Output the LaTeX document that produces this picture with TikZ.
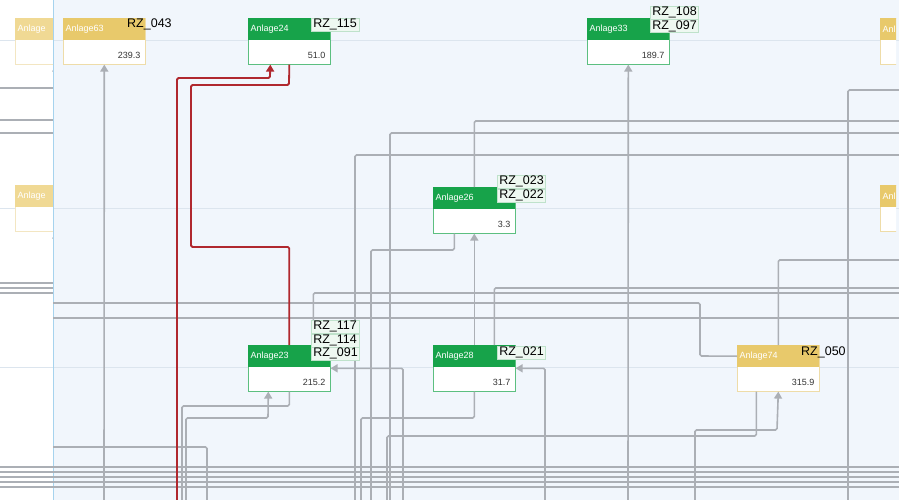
\documentclass[tikz,border=0pt]{standalone}
\usepackage{fontspec}
\setmainfont{Liberation Sans}
\usetikzlibrary{arrows.meta,positioning,calc}
\definecolor{Bg}{HTML}{F1F6FC}
\definecolor{Pane}{HTML}{FFFFFF}
\definecolor{Split}{HTML}{A6D3EE}
\definecolor{RowLine}{HTML}{DCE5EE}
\definecolor{Wire}{HTML}{ABAFB5}
\definecolor{Hot}{HTML}{B0282E}
\definecolor{Gn}{HTML}{17A34A}
\definecolor{GnRule}{HTML}{5CBF80}
\definecolor{Yw}{HTML}{E8C96B}
\definecolor{YwRule}{HTML}{EEDCA8}
\definecolor{YwPale}{HTML}{F0D994}
\definecolor{YwPaleRule}{HTML}{F3E6C2}
\definecolor{TagFill}{HTML}{EEF8F1}
\definecolor{TagRule}{HTML}{BFE2CB}
\definecolor{Ink}{HTML}{333333}
\tikzset{>={Triangle[width=8pt,length=7pt]},
 every node/.style={font=\fontsize{9}{10}\selectfont,inner sep=0pt},
 wire/.style={draw=Wire,line width=1.6pt,rounded corners=1.5pt},
 hot/.style={draw=Hot,line width=1.8pt,rounded corners=1.5pt},
 box/.style={draw=#1,fill=white,line width=.6pt,minimum width=82pt,minimum height=46pt},
 head/.style={fill=#1,minimum width=82pt,minimum height=22pt,text=white,align=left,text width=77pt},
 val/.style={text=Ink},
 tag/.style={draw=TagRule,fill=TagFill,line width=.5pt,font=\fontsize{12.5}{12.5}\selectfont,inner xsep=2pt,minimum height=13pt},
 plain/.style={font=\fontsize{12.5}{12.5}\selectfont,inner xsep=2pt,minimum height=13pt},
 }
% box: name, x, y, colour, title, value
\newcommand{\anlage}[6]{%
 \node[box=#4Rule,anchor=north west] (#1) at (#2,#3) {};
 \node[head=#4,anchor=north west] (#1h) at (#1.north west) {#5};
 \node[val,anchor=south east] (#1v) at ([shift={(-5pt,6pt)}]#1.south east) {#6};}

\begin{document}
\begin{tikzpicture}[x=1pt,y=-1pt]
 \useasboundingbox (0,0) rectangle (899,500);
 \clip (0,0) rectangle (899,500);
 \fill[Pane] (0,0) rectangle (53,500);
 \fill[Bg] (53,0) rectangle (899,500);
 \foreach \y in {40,208,367}
  \draw[RowLine,line width=.6pt] (0,\y) -- (899,\y);

 % left pane
 \begin{scope}
 \clip (0,0) rectangle (53,500);
 \anlage{l1}{15}{18}{YwPale}{Anlage}{}
 \anlage{l2}{15}{185}{YwPale}{Anlage}{}
 \foreach \y in {120,133,283,288}
  \draw[wire] (0,\y) -- (53,\y);
 \draw[wire,->] (0,88) -| (l1.south);
 \draw[wire,->] (0,293) -| (l2.south);
 \end{scope}
 \draw[Split,line width=1pt] (53,0) -- (53,500);

 % boxes
 \anlage{a63}{63}{18}{Yw}{Anlage63}{239.3}
 \anlage{a24}{248}{18}{Gn}{Anlage24}{51.0}
 \anlage{a33}{587}{18}{Gn}{Anlage33}{189.7}
 \anlage{a26}{433}{187}{Gn}{Anlage26}{3.3}
 \anlage{a23}{248}{345}{Gn}{Anlage23}{215.2}
 \anlage{a28}{433}{345}{Gn}{Anlage28}{31.7}
 \anlage{a74}{737}{345}{Yw}{Anlage74}{315.9}
 \begin{scope}
 \clip (0,0) rectangle (896,500);
 \anlage{r1}{880}{18}{Yw}{Anl}{}
 \anlage{r2}{880}{185}{Yw}{Anl}{}
 \end{scope}

 % bottom bundle
 \foreach \y in {467,472,477,482,487}
  \draw[wire] (0,\y) -- (899,\y);

 % wires
 \draw[wire,->] (104,500) -- (a63.south);
 \draw[wire,->] (628,500) -- (a33.south);
 \draw[wire] (848,500) |- (899,90);
 \draw[wire] (a26.north) |- (899,121);
 \draw[wire] (390,500) |- (899,133);
 \draw[wire] (355,500) |- (899,155);
 \draw[wire] (a74.north) |- (899,260);
 \draw[wire] ([xshift=20pt]a28.north) |- (899,288);
 \draw[wire] ([xshift=24pt]a23.north) |- (899,293);
 \draw[wire] (53,303) -| (700,356) -- (a74h.west);
 \draw[wire] (53,318) -- (899,318);
 \draw[wire,->] (a28.north) -- (a26.south);
 \draw[wire] ([xshift=-20pt]a26.south) |- (371,250) -- (371,500);
 \draw[wire,->] (403,500) |- (a23.east);
 \draw[wire,->] (545,500) |- (a28.east);
 \draw[wire,->] (695,500) |- (777,430) -- (a74.south);
 \draw[wire] ([xshift=-22pt]a74.south) |- (387,436) -- (387,500);
 \draw[wire] (a28.south) |- (361,418) -- (361,500);
 \draw[wire] (a23.south) |- (182,406) -- (182,500);
 \draw[wire,->] (186,500) |- (268,418) -- ([xshift=-21pt]a23.south);
 \draw[wire] (53,447) -| (207,500);

 % highlighted path
 \draw[hot,->] (177,500) |- (270,78) -- ([xshift=-19pt]a24.south);
 \draw[hot] (a24.south) -- (289,85) -| (191,247) -| (a23.north);

 % tags
 \node[plain,anchor=north west] (t043) at (125,18) {RZ\_043};
 \node[tag,anchor=north west] (t115) at (311,18) {RZ\_115};
 \node[tag,anchor=north west] (t108) at (650,6) {RZ\_108};
 \node[tag,anchor=north west] (t097) at (t108.south west) {RZ\_097};
 \node[tag,anchor=north west] (t023) at (497,175) {RZ\_023};
 \node[tag,anchor=north west] (t022) at (t023.south west) {RZ\_022};
 \node[tag,anchor=north west] (t117) at (311,320) {RZ\_117};
 \node[tag,anchor=north west] (t114) at (t117.south west) {RZ\_114};
 \node[tag,anchor=north west] (t091) at (t114.south west) {RZ\_091};
 \node[tag,anchor=north west] (t021) at (497,346) {RZ\_021};
 \node[plain,anchor=north west] (t050) at (799,346) {RZ\_050};
\end{tikzpicture}
\end{document}
